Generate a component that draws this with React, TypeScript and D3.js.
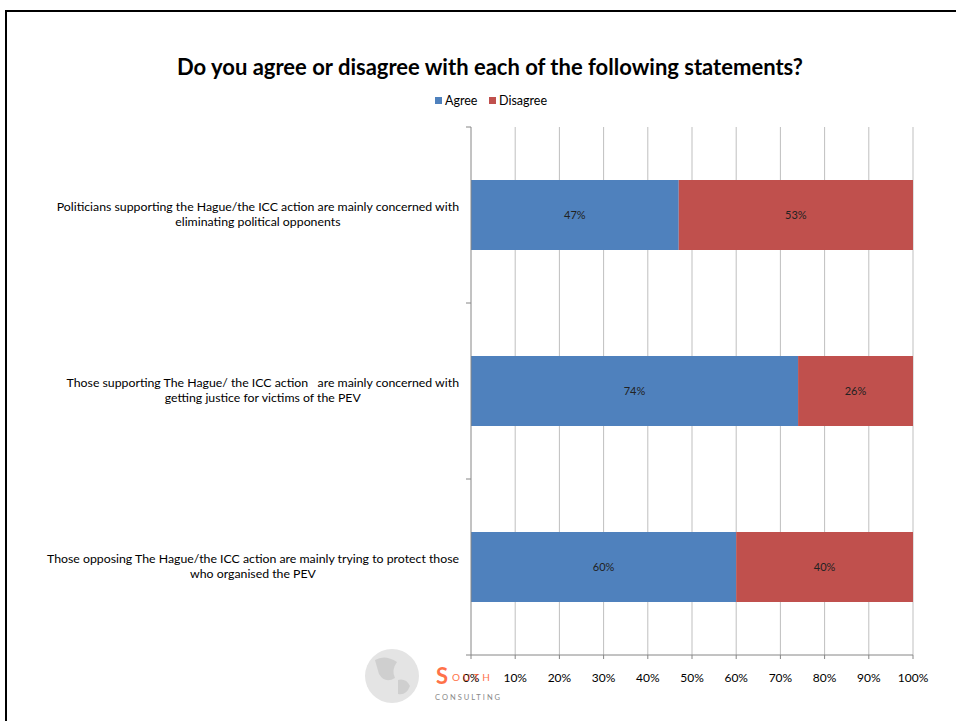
import React from "react";
import * as d3 from "d3";

const categories = [
  ["Politicians supporting the Hague/the ICC action are mainly concerned with", "eliminating political opponents"],
  ["Those supporting The Hague/ the ICC action   are mainly concerned with", "getting justice for victims of the PEV"],
  ["Those opposing The Hague/the ICC action are mainly trying to protect those", "who organised the PEV"],
];
const agree = [47, 74, 60];
const disagree = [53, 26, 40];
const xTicks = [0, 10, 20, 30, 40, 50, 60, 70, 80, 90, 100];
const seriesNames = ["Agree", "Disagree"];
const colors = ["#4f81bd", "#c0504d"];

const W = 956, H = 721;
const x0 = 471, x1 = 913, yTop = 127, yBot = 655;
const font = "Lato, 'Open Sans', sans-serif";

export default function App() {
  const x = d3.scaleLinear().domain([0, 100]).range([x0, x1]);
  const bandFull = (yBot - yTop) / categories.length;
  const catEdges = d3.range(categories.length + 1).map((i) => yTop + i * bandFull);
  const barH = 70;
  return (
    <svg width={W} height={H} style={{ position: "absolute", left: 0, top: 0, background: "#fff" }}>
      <rect x={6} y={11} width={W + 10} height={H + 10} fill="#fff" stroke="#000" strokeWidth={2} />
      <text x={490} y={75} textAnchor="middle" fontFamily={font} fontWeight="bold" fontSize={22}>
        Do you agree or disagree with each of the following statements?
      </text>
      {/* legend */}
      <g fontFamily={font} fontSize={12.5}>
        <rect x={435} y={97} width={7} height={7} fill={colors[0]} />
        <text x={445} y={105}>{seriesNames[0]}</text>
        <rect x={489} y={97} width={7} height={7} fill={colors[1]} />
        <text x={499} y={105}>{seriesNames[1]}</text>
      </g>
      {/* gridlines */}
      {xTicks.slice(1).map((t) => (
        <line key={t} x1={x(t)} x2={x(t)} y1={yTop} y2={yBot} stroke="#bfbfbf" strokeWidth={1} />
      ))}
      {/* bars */}
      {categories.map((c, i) => {
        const yy = yTop + i * bandFull + (bandFull - barH) / 2;
        return (
          <g key={i}>
            <rect x={x(0)} y={yy} width={x(agree[i]) - x(0)} height={barH} fill={colors[0]} />
            <rect x={x(agree[i])} y={yy} width={x(agree[i] + disagree[i]) - x(agree[i])} height={barH} fill={colors[1]} />
            <text x={(x(0) + x(agree[i])) / 2} y={yy + 39} textAnchor="middle" fontFamily={font} fontSize={11} fill="#222">{agree[i]}%</text>
            <text x={(x(agree[i]) + x(100)) / 2} y={yy + 39} textAnchor="middle" fontFamily={font} fontSize={11} fill="#222">{disagree[i]}%</text>
            <CatLabel lines={c} right={459} y={yy + 31} />
          </g>
        );
      })}
      {/* axes */}
      <line x1={x0} x2={x0} y1={yTop} y2={yBot} stroke="#868686" />
      <line x1={x0} x2={x1} y1={yBot} y2={yBot} stroke="#868686" />
      {catEdges.map((e, i) => (
        <line key={i} x1={x0 - 5} x2={x0} y1={e} y2={e} stroke="#868686" />
      ))}
      {xTicks.map((t) => (
        <g key={t}>
          <line x1={x(t)} x2={x(t)} y1={yBot} y2={yBot + 4} stroke="#868686" />
          <text x={x(t)} y={682} textAnchor="middle" fontFamily={font} fontSize={12}>{t}%</text>
        </g>
      ))}
      {/* logo watermark */}
      <g>
        <circle cx={392} cy={676} r={27} fill="#e4e4e4" />
        <path d="M375,660 q10,-6 22,2 q-6,8 -2,16 q-10,6 -16,-4 z" fill="#cfcfcf" />
        <path d="M398,680 q8,-2 12,6 q-4,10 -12,8 z" fill="#cfcfcf" />
        <text x={436} y={684} fontFamily={font} fontSize={22} fontWeight="bold" fill="#ff5a2a" opacity={0.85}>S</text>
        <text x={452} y={681} fontFamily={font} fontSize={10} fill="#ff5a2a" letterSpacing={3} opacity={0.85}>OUTH</text>
        <text x={435} y={700} fontFamily={font} fontSize={7.5} fill="#888" letterSpacing={2}>CONSULTING</text>
      </g>
    </svg>
  );
}

function CatLabel({ lines, right, y }: { lines: string[]; right: number; y: number }) {
  const ref = React.useRef<SVGTextElement>(null);
  const [w, setW] = React.useState(0);
  React.useLayoutEffect(() => {
    if (ref.current) setW(ref.current.getComputedTextLength());
  }, []);
  const cx = right - w / 2;
  return (
    <g fontFamily={font} fontSize={12.3} fill="#000">
      <text ref={ref} x={right} y={y} textAnchor="end" style={{ whiteSpace: "pre" }}>{lines[0]}</text>
      <text x={cx} y={y + 15} textAnchor="middle" fillOpacity={w ? 1 : 0}>{lines[1]}</text>
    </g>
  );
}
